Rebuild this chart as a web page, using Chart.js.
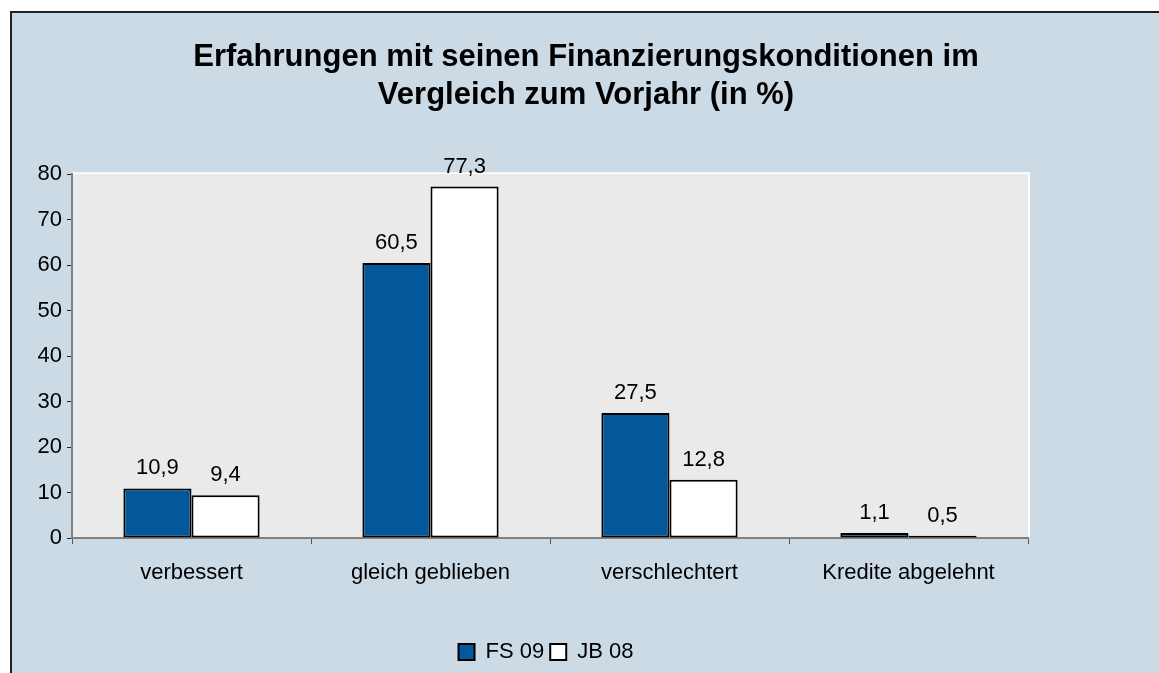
<!DOCTYPE html>
<html>
<head>
<meta charset="utf-8">
<script src="https://cdn.jsdelivr.net/npm/chart.js@4/dist/chart.umd.min.js"></script>
<style>
  body { margin: 0; background: #ffffff; }
  canvas { display: block; }
</style>
</head>
<body>
<canvas id="chart" width="1159" height="673"></canvas>
<script>
var categories = ["verbessert", "gleich geblieben", "verschlechtert", "Kredite abgelehnt"];
var fs09 = [10.9, 60.5, 27.5, 1.1];
var jb08 = [9.4, 77.3, 12.8, 0.5];
var titleLines = ["Erfahrungen mit seinen Finanzierungskonditionen im", "Vergleich zum Vorjahr (in %)"];

var fontFamily = "'Liberation Sans', Arial, sans-serif";

// frame, blue background and gray plot area
var backgroundPlugin = {
    id: 'backgroundPlugin',
    beforeDraw: function(chart) {
        var ctx = chart.ctx;
        var area = chart.chartArea;
        ctx.save();
        ctx.fillStyle = '#CCDAE6';
        ctx.fillRect(11, 12, chart.width - 11, chart.height - 12);
        ctx.strokeStyle = '#222222';
        ctx.lineWidth = 2;
        ctx.beginPath();
        ctx.moveTo(11, chart.height);
        ctx.lineTo(11, 12);
        ctx.lineTo(chart.width, 12);
        ctx.stroke();

        ctx.fillStyle = '#EAEAEA';
        ctx.fillRect(area.left, area.top, area.right - area.left, area.bottom - area.top);
        ctx.strokeStyle = '#FFFFFF';
        ctx.lineWidth = 2;
        ctx.beginPath();
        ctx.moveTo(area.left, area.top - 1);
        ctx.lineTo(area.right + 1, area.top - 1);
        ctx.lineTo(area.right + 1, area.bottom);
        ctx.stroke();
        ctx.restore();
    },
    afterLayout: function(chart) {
        // title and legend are not centred on the plot in the original
        chart.titleBlock.left += 66;
        chart.titleBlock.right += 66;
        chart.legend.left += 26;
        chart.legend.right += 26;
    }
};

// value labels above the bars
var valueLabels = {
    id: 'valueLabels',
    afterDatasetsDraw: function(chart) {
        var ctx = chart.ctx;
        ctx.save();
        ctx.font = '22px ' + fontFamily;
        ctx.fillStyle = '#000000';
        ctx.textAlign = 'center';
        ctx.textBaseline = 'alphabetic';
        chart.data.datasets.forEach(function(ds, i) {
            chart.getDatasetMeta(i).data.forEach(function(bar, j) {
                var txt = ds.data[j].toFixed(1).replace('.', ',');
                ctx.fillText(txt, bar.x, bar.y - 14);
            });
        });
        ctx.restore();
    }
};

var ctx = document.getElementById('chart');
new Chart(ctx, {
    type: 'bar',
    data: {
        labels: categories,
        datasets: [
            {
                label: 'FS 09',
                data: fs09,
                backgroundColor: '#03589B',
                borderColor: '#000000',
                borderWidth: 2,
                borderSkipped: false
            },
            {
                label: 'JB 08',
                data: jb08,
                backgroundColor: '#FFFFFF',
                borderColor: '#000000',
                borderWidth: 2,
                borderSkipped: false
            }
        ]
    },
    options: {
        responsive: false,
        animation: false,
        categoryPercentage: 0.57,
        barPercentage: 1.0,
        layout: {
            padding: { left: 12, right: 131, top: 38, bottom: 0 }
        },
        scales: {
            x: {
                offset: true,
                grid: {
                    offset: true,
                    drawOnChartArea: false,
                    tickLength: 6,
                    tickColor: '#555555'
                },
                border: { color: '#808080', width: 2 },
                ticks: {
                    color: '#000000',
                    padding: 16,
                    font: { size: 22, family: fontFamily }
                },
                afterFit: function(scale) { scale.height = 97; }
            },
            y: {
                min: 0,
                max: 80,
                grid: {
                    drawOnChartArea: false,
                    tickLength: 5,
                    tickColor: '#222222'
                },
                border: { color: '#808080', width: 2 },
                ticks: {
                    stepSize: 10,
                    color: '#000000',
                    padding: 5,
                    font: { size: 22, family: fontFamily }
                },
                afterFit: function(scale) { scale.width = 60; }
            }
        },
        plugins: {
            title: {
                display: true,
                text: titleLines,
                color: '#000000',
                font: { size: 31, weight: 'bold', family: fontFamily, lineHeight: 1.23 },
                padding: { top: 0, bottom: 60 }
            },
            legend: {
                position: 'bottom',
                labels: {
                    color: '#000000',
                    boxWidth: 16,
                    boxHeight: 16,
                    padding: 6,
                    font: { size: 22, family: fontFamily },
                    generateLabels: function(chart) {
                        return chart.data.datasets.map(function(ds, i) {
                            return {
                                text: ds.label,
                                fillStyle: ds.backgroundColor,
                                strokeStyle: '#000000',
                                lineWidth: 2,
                                fontColor: '#000000',
                                datasetIndex: i
                            };
                        });
                    }
                }
            },
            tooltip: { enabled: false }
        }
    },
    plugins: [backgroundPlugin, valueLabels]
});
</script>
</body>
</html>
